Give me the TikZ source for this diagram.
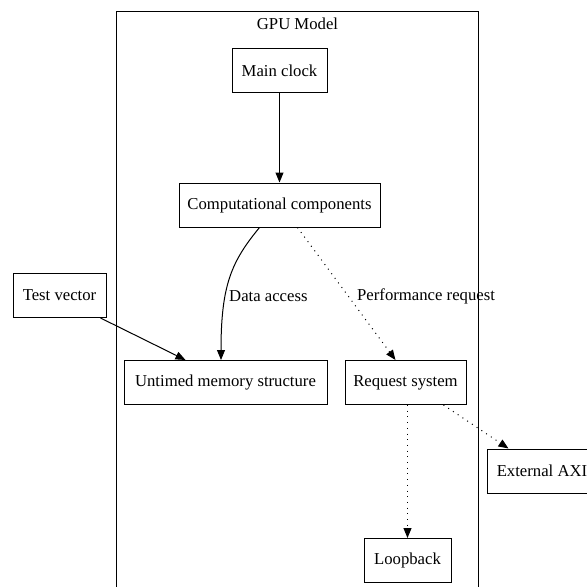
\documentclass[tikz,border=0pt]{standalone}
\usepackage{fontspec}
\setmainfont{Liberation Serif}
\usetikzlibrary{arrows.meta}
\begin{document}
\begin{tikzpicture}[x=1pt,y=-1pt,
  every node/.style={font=\fontsize{16.7}{20}\selectfont},
  box/.style={draw,rectangle,line width=1pt,inner sep=0pt,minimum height=44pt},
  link/.style={line width=1pt,-{Triangle[length=10pt,width=8pt]}},
  dotlink/.style={link,dash pattern=on 1pt off 4.7pt},
  lbl/.style={anchor=west,inner sep=0pt}]
  \useasboundingbox (0,0) rectangle (587,587);
  % cluster frame
  \draw[line width=1pt] (116.5,600) -- (116.5,11.5) -- (478.5,11.5) -- (478.5,600);
  \node (title) at (297.5,24) {GPU Model};
  % boxes
  \node[box,minimum width=95pt]  (clk)  at (279.5,70.5)  {Main clock};
  \node[box,minimum width=201pt] (comp) at (279.5,205)   {Computational components};
  \node[box,minimum width=93pt]  (tv)   at (59.5,295.5)  {Test vector};
  \node[box,minimum width=203pt] (mem)  at (225.5,382.5) {Untimed memory structure};
  \node[box,minimum width=121pt] (req)  at (405.5,382.5) {Request system};
  \node[box,minimum width=87pt]  (loop) at (407.5,560.5) {Loopback};
  \node[box,minimum width=110pt] (ext)  at (542,471)     {External AXI};
  % connectors
  \draw[link] (clk) -- (comp);
  \draw[link] ([xshift=-20pt]comp.south) .. controls +(-28,34) and +(0,-75) .. ([xshift=-4.5pt]mem.north);
  \draw[dotlink] ([xshift=18pt]comp.south) -- ([xshift=-10pt]req.north);
  \draw[link] ([xshift=-6pt]tv.south east) -- ([xshift=-40pt]mem.north);
  \draw[dotlink] ([xshift=2pt]req.south) -- (loop.north);
  \draw[dotlink] ([xshift=38pt]req.south) -- ([xshift=22pt]ext.north west);
  % edge labels
  \node[lbl] (lda) at (229,296) {Data access};
  \node[lbl] (lpr) at (357,296) {Performance request};
\end{tikzpicture}
\end{document}
